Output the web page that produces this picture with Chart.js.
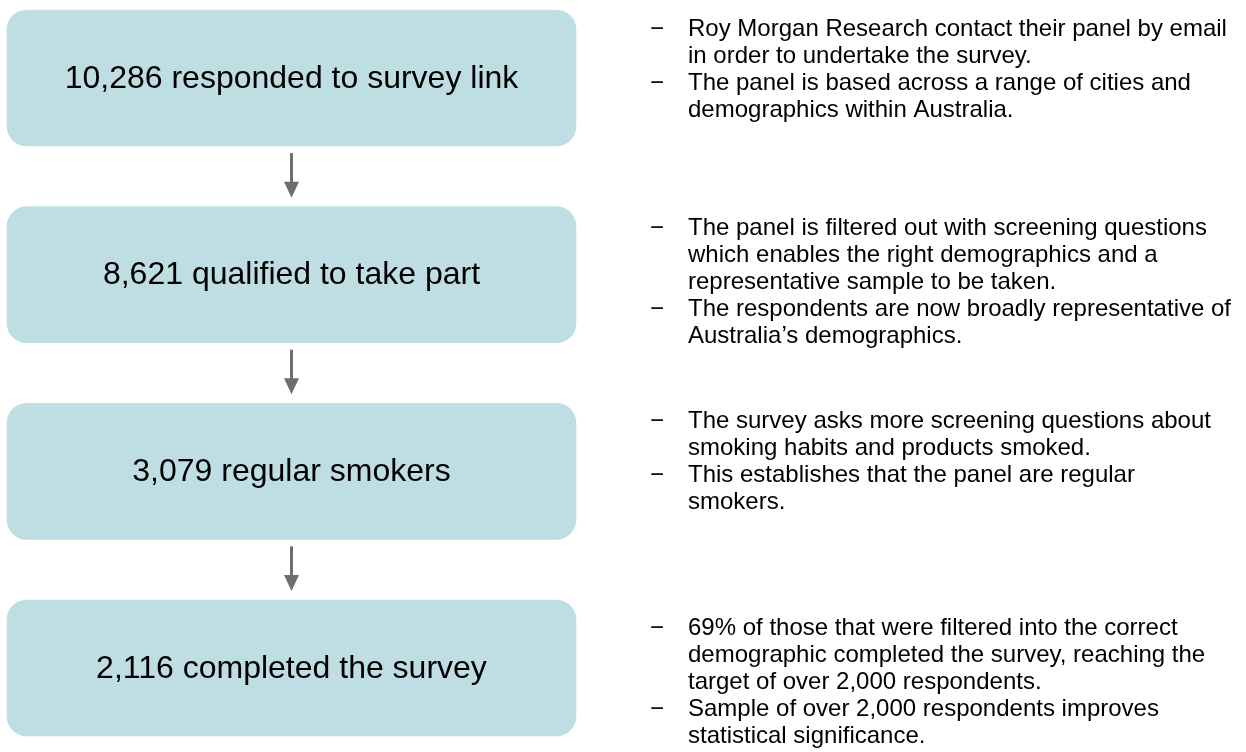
<!DOCTYPE html>
<html>
<head>
<meta charset="utf-8">
<script src="https://cdn.jsdelivr.net/npm/chart.js@4.4.1/dist/chart.umd.min.js"></script>
<style>
    html, body { margin: 0; padding: 0; background: #ffffff; }
    #wrap { width: 1246px; height: 752px; position: relative; }
</style>
</head>
<body>
<div id="wrap"><canvas id="funnel"></canvas></div>
<script>
// Шаги воронки опроса
const stepCounts = [10286, 8621, 3079, 2116];
const stepLabels = [
    'responded to survey link',
    'qualified to take part',
    'regular smokers',
    'completed the survey'
];

// Пояснения справа: по одному массиву на шаг, внутри - пункты, в пунктах - строки
const stepNotes = [
    [
        ['Roy Morgan Research contact their panel by email', 'in order to undertake the survey.'],
        ['The panel is based across a range of cities and', 'demographics within Australia.']
    ],
    [
        ['The panel is filtered out with screening questions', 'which enables the right demographics and a', 'representative sample to be taken.'],
        ['The respondents are now broadly representative of', 'Australia\u2019s demographics.']
    ],
    [
        ['The survey asks more screening questions about', 'smoking habits and products smoked.'],
        ['This establishes that the panel are regular', 'smokers.']
    ],
    [
        ['69% of those that were filtered into the correct', 'demographic completed the survey, reaching the', 'target of over 2,000 respondents.'],
        ['Sample of over 2,000 respondents improves', 'statistical significance.']
    ]
];

// Оформление
const BOX_COLOR = '#bfdee3';
const ARROW_COLOR = '#6e6e6e';
const TEXT_COLOR = '#000000';
const FONT = '"Liberation Sans", Arial, sans-serif';
const NOTE_DASH_X = 650;
const NOTE_TEXT_X = 688;
const NOTE_LINE_H = 27;
const NOTE_OFFSETS = [26, 28, 25, 35];

function formatStep(i) {
    return stepCounts[i].toLocaleString('en-US') + ' ' + stepLabels[i];
}

// Плагин: подписи в блоках, стрелки и пояснения
const flowPlugin = {
    id: 'flowPlugin',
    afterDatasetsDraw(chart) {
        const ctx = chart.ctx;
        const bars = chart.getDatasetMeta(0).data;

        ctx.save();
        ctx.fillStyle = TEXT_COLOR;
        ctx.textAlign = 'center';
        ctx.textBaseline = 'middle';
        ctx.font = '32px ' + FONT;
        bars.forEach((bar, i) => {
            const cx = (bar.x + bar.base) / 2;
            ctx.fillText(formatStep(i), cx, bar.y + 1);
        });

        // Стрелки между блоками
        ctx.strokeStyle = ARROW_COLOR;
        ctx.fillStyle = ARROW_COLOR;
        ctx.lineWidth = 3;
        for (let i = 0; i < bars.length - 1; i++) {
            const a = bars[i];
            const b = bars[i + 1];
            const cx = (a.x + a.base) / 2;
            const y0 = a.y + a.height / 2 + 7;
            const y1 = b.y - b.height / 2 - 9;
            const headLen = 16;
            ctx.beginPath();
            ctx.moveTo(cx, y0);
            ctx.lineTo(cx, y1 - headLen + 1);
            ctx.stroke();
            ctx.beginPath();
            ctx.moveTo(cx - 7.5, y1 - headLen);
            ctx.lineTo(cx + 7.5, y1 - headLen);
            ctx.lineTo(cx, y1);
            ctx.closePath();
            ctx.fill();
        }

        // Пояснения справа
        ctx.fillStyle = TEXT_COLOR;
        ctx.textAlign = 'left';
        ctx.textBaseline = 'alphabetic';
        ctx.font = '24px ' + FONT;
        bars.forEach((bar, i) => {
            let y = bar.y - bar.height / 2 + NOTE_OFFSETS[i];
            stepNotes[i].forEach(point => {
                ctx.fillText('\u2212', NOTE_DASH_X, y);
                point.forEach(line => {
                    ctx.fillText(line, NOTE_TEXT_X, y);
                    y += NOTE_LINE_H;
                });
            });
        });
        ctx.restore();
    }
};

new Chart(document.getElementById('funnel'), {
    type: 'bar',
    data: {
        datasets: [{
            data: stepCounts.map((c, i) => ({ x: [0, 1], y: i })),
            backgroundColor: BOX_COLOR,
            borderWidth: 0,
            borderRadius: 20,
            borderSkipped: false,
            barThickness: 136
        }]
    },
    options: {
        indexAxis: 'y',
        responsive: true,
        maintainAspectRatio: false,
        animation: false,
        events: [],
        layout: { padding: 0 },
        scales: {
            x: { type: 'linear', display: false, min: -0.0123, max: 2.1775 },
            y: { type: 'linear', display: false, offset: false, reverse: true, min: -0.3966, max: 3.4271 }
        },
        plugins: {
            legend: { display: false },
            tooltip: { enabled: false }
        }
    },
    plugins: [flowPlugin]
});
</script>
</body>
</html>
